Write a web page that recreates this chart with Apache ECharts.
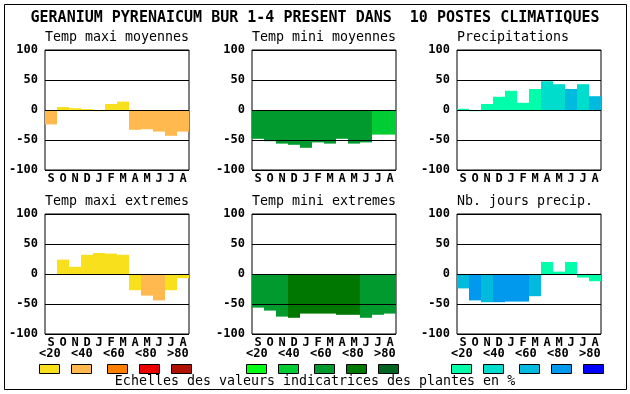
<!DOCTYPE html>
<html><head><meta charset="utf-8">
<script src="https://cdn.jsdelivr.net/npm/echarts@6/dist/echarts.min.js"></script>
<style>html,body{margin:0;padding:0;background:#fff}#c{width:630px;height:394px}</style>
</head><body><div id="c"></div>
<script>
var months = ['S','O','N','D','J','F','M','A','M','J','J','A'];
var yTicks = [-100, -50, 0, 50, 100];
var mainTitle = 'GERANIUM PYRENAICUM BUR 1-4 PRESENT DANS  10 POSTES CLIMATIQUES';
var panelTitles = ['Temp maxi moyennes','Temp mini moyennes','Precipitations','Temp maxi extremes','Temp mini extremes','Nb. jours precip.'];

var tmaxMoy    = [-24, 5, 3, 1.5, -2, 10, 14, -33, -32, -36, -43, -36];
var tmaxMoyCls = [1, 0, 0, 0, 0, 0, 0, 1, 1, 1, 1, 1];
var tminMoy    = [-48, -52, -56, -58, -63, -54, -56, -48, -56, -54, -41, -41];
var tminMoyCls = [2, 2, 2, 2, 2, 2, 2, 2, 2, 2, 1, 1];
var precip     = [2, -2, 10, 22, 32, 12, 35, 48, 43, 35, 43, 23];
var precipCls  = [0, 0, 0, 0, 0, 0, 0, 1, 1, 2, 1, 2];
var tmaxExt    = [0, 24, 12, 32, 35, 34, 32, -27, -36, -44, -27, -7];
var tmaxExtCls = [0, 0, 0, 0, 0, 0, 0, 0, 1, 1, 0, 0];
var tminExt    = [-56, -61, -71, -73, -66, -66, -66, -68, -68, -73, -68, -66];
var tminExtCls = [2, 2, 2, 3, 3, 3, 3, 3, 3, 2, 2, 2];
var nbJours    = [-24, -44, -47, -47, -46, -46, -37, 20, 4, 20, -6, -12];
var nbJoursCls = [2, 3, 2, 3, 3, 3, 2, 0, 0, 0, 0, 0];

var scaleLabels = ['<20', '<40', '<60', '<80', '>80'];
var palMax = ['#f8e11c', '#ffb94f', '#ff7f00', '#ea0000', '#b01000'];
var palMin = ['#00ff14', '#00cc33', '#009a2e', '#007800', '#00641e'];
var palPre = ['#00ffaa', '#00ddcc', '#00bbdd', '#0099ee', '#0000ff'];
var footer = 'Echelles des valeurs indicatrices des plantes en %';

var panels = [
  {v: tmaxMoy, c: tmaxMoyCls, p: palMax},
  {v: tminMoy, c: tminMoyCls, p: palMin},
  {v: precip,  c: precipCls,  p: palPre},
  {v: tmaxExt, c: tmaxExtCls, p: palMax},
  {v: tminExt, c: tminExtCls, p: palMin},
  {v: nbJours, c: nbJoursCls, p: palPre}
];

var lefts = [45, 252, 457];
var tops = [50, 214];
var W = 144, H = 120;
var FONT = 'DejaVu Sans Mono';

var grids = [], xAxes = [], yAxes = [], series = [], graphics = [];
panels.forEach(function (pn, i) {
  var col = i % 3, row = Math.floor(i / 3);
  grids.push({left: lefts[col], top: tops[row], width: W, height: H, show: true,
    borderColor: '#000', borderWidth: 1, backgroundColor: '#fff'});
  xAxes.push({type: 'category', gridIndex: i, data: months, boundaryGap: true,
    axisLine: {show: false}, axisTick: {show: false},
    axisLabel: {color: '#000', fontFamily: FONT, fontWeight: 'bold', fontSize: 12, margin: 3, interval: 0}});
  yAxes.push({type: 'value', gridIndex: i, min: yTicks[0], max: yTicks[yTicks.length - 1], interval: 50, z: 5,
    axisLine: {show: false}, axisTick: {show: false},
    splitLine: {show: true, lineStyle: {color: '#000', width: 1}},
    axisLabel: {color: '#000', fontFamily: FONT, fontWeight: 'bold', fontSize: 12, margin: 7}});
  series.push({type: 'bar', xAxisIndex: i, yAxisIndex: i, barCategoryGap: '0%', barGap: '0%',
    animation: false,
    data: pn.v.map(function (v, k) { return {value: v, itemStyle: {color: pn.p[pn.c[k]]}}; })});
  graphics.push({type: 'text', left: lefts[col], top: tops[row] - 19,
    style: {text: panelTitles[i], fill: '#000', font: '13.3px "' + FONT + '"'}});
});

graphics.push({type: 'rect', shape: {x: 4.5, y: 4.5, width: 622, height: 385},
  style: {fill: null, stroke: '#000', lineWidth: 1}, z: 10});
graphics.push({type: 'text', x: 315, y: 18,
  style: {text: mainTitle, fill: '#000', font: 'bold 15px "' + FONT + '"', textAlign: 'center', textVerticalAlign: 'middle'}});
graphics.push({type: 'text', x: 315, y: 382,
  style: {text: footer, fill: '#000', font: '13.3px "' + FONT + '"', textAlign: 'center', textVerticalAlign: 'middle'}});

var pals = [palMax, palMin, palPre];
var boxOff = [0, 32, 68, 100, 132];
for (var g = 0; g < 3; g++) {
  var gs = lefts[g] - 6;
  for (var k = 0; k < 5; k++) {
    graphics.push({type: 'text', x: gs + k * 32, y: 353.5,
      style: {text: scaleLabels[k], fill: '#000', font: 'bold 12px "' + FONT + '"', textAlign: 'left', textVerticalAlign: 'middle'}});
    graphics.push({type: 'rect', shape: {x: gs + boxOff[k] + 0.5, y: 364.5, width: 20, height: 9},
      style: {fill: pals[g][k], stroke: '#000', lineWidth: 1}});
  }
}

var chart = echarts.init(document.getElementById('c'), null, {renderer: 'canvas'});
chart.setOption({
  animation: false,
  backgroundColor: '#fff',
  grid: grids, xAxis: xAxes, yAxis: yAxes, series: series,
  graphic: graphics
});
</script></body></html>
